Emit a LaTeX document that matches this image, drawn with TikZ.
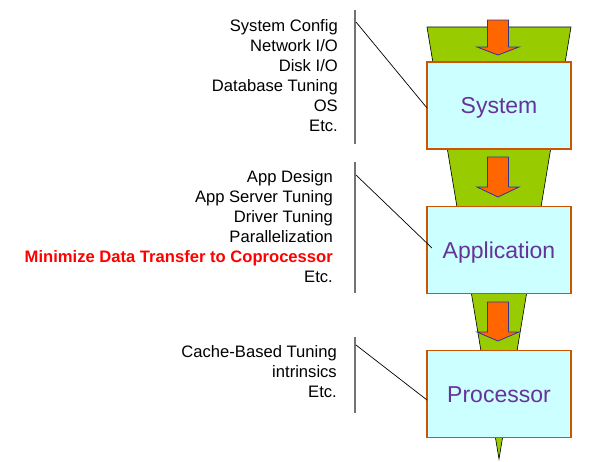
\documentclass[tikz,border=0pt]{standalone}
\usepackage{fontspec}
\setmainfont{Liberation Sans}
\definecolor{funnelgreen}{HTML}{99CC00}
\definecolor{arroworange}{HTML}{FF6600}
\definecolor{arrowedge}{HTML}{333399}
\definecolor{boxfill}{HTML}{CCFFFF}
\definecolor{boxedge}{HTML}{CC5500}
\definecolor{labelpurple}{HTML}{663399}
\begin{document}
\begin{tikzpicture}[x=1pt,y=-1pt,
  layerbox/.style={draw=boxedge,line width=1.8pt,fill=boxfill,minimum width=144pt,minimum height=87pt,inner sep=0pt,
    font=\fontsize{23}{26}\selectfont,text=labelpurple,text height=16.5pt,text depth=0pt},
  item/.style={anchor=base east,inner sep=0pt,font=\fontsize{16.6}{19}\selectfont},
  hot/.style={item,font=\fontsize{16.6}{19}\selectfont\bfseries,text=red},
  downarrow/.style={fill=arroworange,draw=arrowedge,line width=0.8pt,line join=miter},
  bracket/.style={draw=black!55,line width=1.4pt},
  leader/.style={draw=black,line width=0.7pt}]
\useasboundingbox (0,0) rectangle (597,461);
% funnel
\fill[funnelgreen,draw=black,line width=0.6pt] (427,27) -- (571,27) -- (499,459) -- cycle;
% arrows
\foreach \t/\h/\p in {20/47/55, 157/187/197, 302/332/341}{
  \draw[downarrow] (487.5,\t) -- (508.5,\t) -- (508.5,\h) -- (519,\h) -- (498,\p) -- (477,\h) -- (487.5,\h) -- cycle;
}
% boxes
\node[layerbox] (sys)  at (499,105.5) {System};
\node[layerbox] (app)  at (499,250)   {Application};
\node[layerbox] (proc) at (499,394)   {Processor};
% text groups
\node[item] (s1) at (338,31)  {System Config};
\node[item] (s2) at (338,51)  {Network I/O};
\node[item] (s3) at (338,71)  {Disk I/O};
\node[item] (s4) at (338,91)  {Database Tuning};
\node[item] (s5) at (338,111) {OS};
\node[item] (s6) at (338,131) {Etc.};
\node[item] (a1) at (333,182) {App Design};
\node[item] (a2) at (333,202) {App Server Tuning};
\node[item] (a3) at (333,222) {Driver Tuning};
\node[item] (a4) at (333,242) {Parallelization};
\node[hot]  (a5) at (333,262) {Minimize Data Transfer to Coprocessor};
\node[item] (a6) at (333,282) {Etc.};
\node[item] (p1) at (337,357) {Cache-Based Tuning};
\node[item] (p2) at (337,377) {intrinsics};
\node[item] (p3) at (337,397) {Etc.};
% brackets
\coordinate (b1t) at (355,10);  \coordinate (b1b) at (355,144);
\coordinate (b2t) at (355,162); \coordinate (b2b) at (355,293);
\coordinate (b3t) at (355,337); \coordinate (b3b) at (355,413);
\draw[bracket] (b1t) -- (b1b);
\draw[bracket] (b2t) -- (b2b);
\draw[bracket] (b3t) -- (b3b);
% leaders
\coordinate (l1) at (356,22);  \coordinate (e1) at (427,108);
\coordinate (l2) at (356,175); \coordinate (e2) at (432,248);
\coordinate (l3) at (356,345); \coordinate (e3) at (427,400);
\draw[leader] (l1) -- (e1);
\draw[leader] (l2) -- (e2);
\draw[leader] (l3) -- (e3);
\end{tikzpicture}
\end{document}
